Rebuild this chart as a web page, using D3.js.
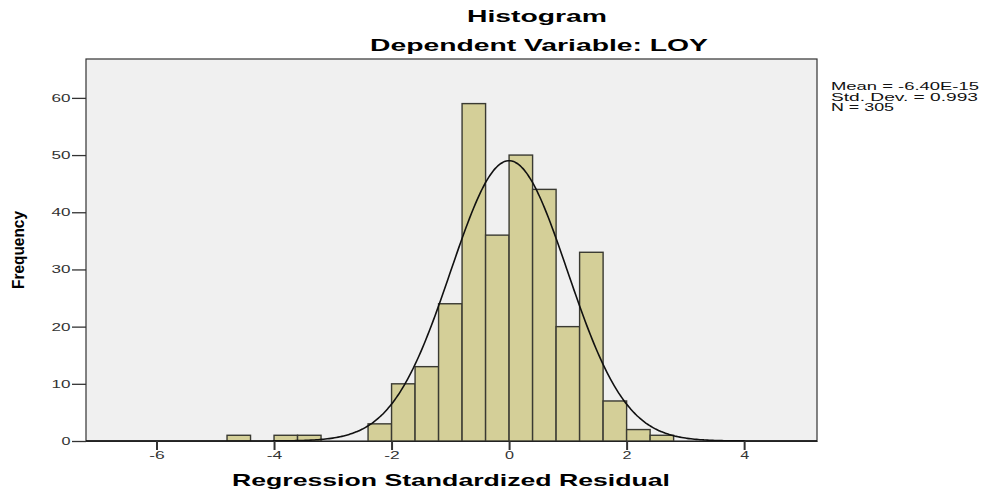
<!DOCTYPE html>
<html><head><meta charset="utf-8">
<script src="https://cdn.jsdelivr.net/npm/d3@7"></script>
<style>body{margin:0;background:#fff;} svg{display:block;}</style>
</head><body>
<svg id="c" width="983" height="491"></svg>
<script>
// Histogram bins (lower edge) and counts
const binStarts = [-4.8, -4.0, -3.6, -2.4, -2.0, -1.6, -1.2, -0.8, -0.4, 0.0, 0.4, 0.8, 1.2, 1.6, 2.0, 2.4];
const binCounts = [1, 1, 1, 3, 10, 13, 24, 59, 36, 50, 44, 20, 33, 7, 2, 1];
const binWidth = 0.4;
const xTicks = [-6, -4, -2, 0, 2, 4];
const yTicks = [0, 10, 20, 30, 40, 50, 60];
const statLines = ["Mean = -6.40E-15", "Std. Dev. = 0.993", "N = 305"];
const meanVal = -6.40e-15, sdVal = 0.993, nVal = 305;

const svg = d3.select("#c");
const L = 86, R = 817, T = 59, B = 441;
const x = d3.scaleLinear().domain([-7.2, 5.24]).range([L, R]);
const y = d3.scaleLinear().domain([0, 66.8]).range([B, T]);
const font = "Liberation Sans, Arial, sans-serif";
// reference text is horizontally stretched; width per label char
const labW = s => s.split("").reduce((a, c) => a + (c === "-" ? 6.5 : 10), 0) - 1;

svg.append("rect").attr("x", L).attr("y", T).attr("width", R - L).attr("height", B - T)
  .attr("fill", "#f0f0f0").attr("stroke", "#333").attr("stroke-width", 1.2);

svg.selectAll("rect.bar").data(binStarts).join("rect").attr("class", "bar")
  .attr("x", d => x(d)).attr("width", d => x(d + binWidth) - x(d))
  .attr("y", (d, i) => y(binCounts[i])).attr("height", (d, i) => y(0) - y(binCounts[i]))
  .attr("fill", "#d4cf98").attr("stroke", "#3a3a32").attr("stroke-width", 1.4);

// normal curve from the stated mean, sd and N
const pts = d3.range(0, 401).map(i => -7.2 + i * (12.44 / 400));
const pdf = v => nVal * binWidth / (sdVal * Math.sqrt(2 * Math.PI)) * Math.exp(-0.5 * ((v - meanVal) / sdVal) ** 2);
svg.append("path").datum(pts).attr("fill", "none").attr("stroke", "#111").attr("stroke-width", 1.6)
  .attr("d", d3.line().x(d => x(d)).y(d => y(pdf(d))).curve(d3.curveBasis));

// axes
const xa = svg.append("g").attr("transform", `translate(0,${B})`)
  .call(d3.axisBottom(x).tickValues(xTicks).tickSize(9).tickSizeOuter(0).tickPadding(1).tickFormat(d3.format("d")));
xa.select(".domain").attr("stroke", "#222").attr("stroke-width", 1.2);
xa.selectAll(".tick line").attr("stroke", "#333").attr("stroke-width", 2);
xa.selectAll(".tick text").attr("font-family", font).attr("font-size", 11).attr("fill", "#333")
  .text(d => String(d).replace("−", "-"))
  .attr("textLength", d => labW(String(d))).attr("lengthAdjust", "spacingAndGlyphs");

const ya = svg.append("g").attr("transform", `translate(${L},0)`)
  .call(d3.axisLeft(y).tickValues(yTicks).tickSize(14).tickSizeOuter(0).tickPadding(1.5));
ya.select(".domain").remove();
ya.selectAll(".tick line").attr("stroke", "#333").attr("stroke-width", 1.3);
ya.selectAll(".tick text").attr("font-family", font).attr("font-size", 10.5).attr("fill", "#333")
  .attr("textLength", d => labW(String(d))).attr("lengthAdjust", "spacingAndGlyphs");

// titles
const stretch = (sel, w) => sel.attr("textLength", w).attr("lengthAdjust", "spacingAndGlyphs");
stretch(svg.append("text").attr("x", 537).attr("y", 22).attr("text-anchor", "middle")
  .attr("font-family", font).attr("font-weight", "bold").attr("font-size", 17).text("Histogram"), 140);
stretch(svg.append("text").attr("x", 539).attr("y", 51).attr("text-anchor", "middle")
  .attr("font-family", font).attr("font-weight", "bold").attr("font-size", 17).text("Dependent Variable: LOY"), 338);
stretch(svg.append("text").attr("x", 451).attr("y", 486).attr("text-anchor", "middle")
  .attr("font-family", font).attr("font-weight", "bold").attr("font-size", 17).text("Regression Standardized Residual"), 438);
stretch(svg.append("text").attr("transform", "translate(24,250) rotate(-90)").attr("text-anchor", "middle")
  .attr("font-family", font).attr("font-weight", "bold")
  .attr("font-size", 16).text("Frequency"), 78);

const statW = [148, 147, 63];
svg.append("g").selectAll("text").data(statLines).join("text")
  .attr("x", 831).attr("y", (d, i) => 90 + i * 10.5)
  .attr("font-family", font).attr("font-size", 10.5).attr("fill", "#111").text(d => d)
  .attr("textLength", (d, i) => statW[i]).attr("lengthAdjust", "spacingAndGlyphs");
</script>
</body></html>
